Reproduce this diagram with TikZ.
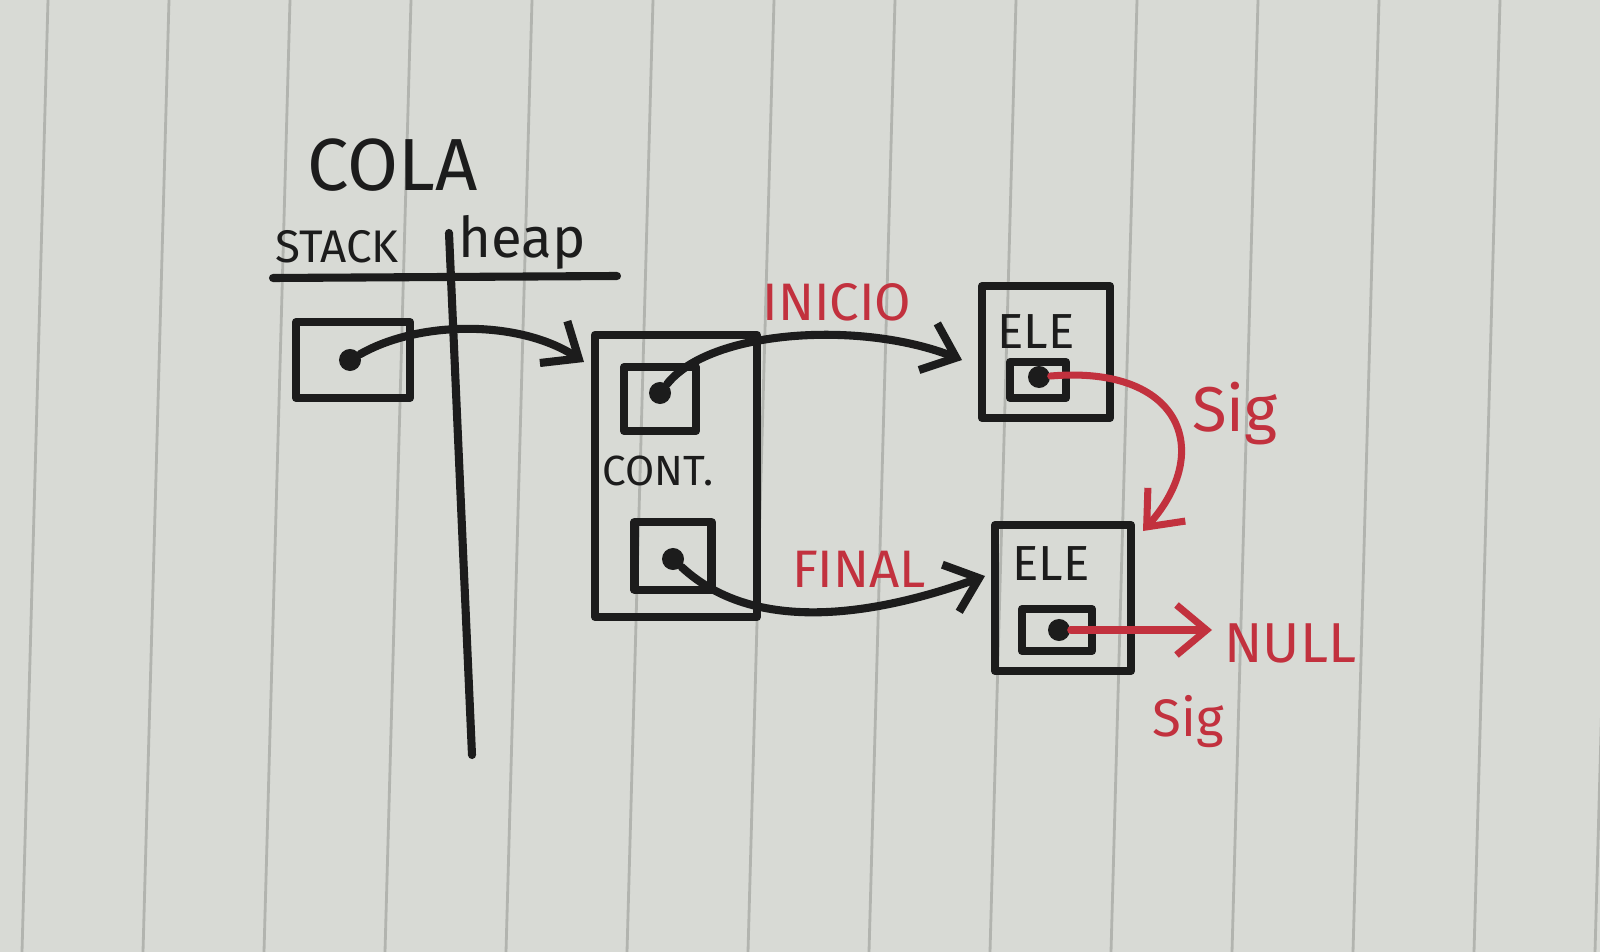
\documentclass[tikz,border=0pt]{standalone}
\usepackage{fontspec}
\setmainfont{Fira Sans}
\usetikzlibrary{arrows.meta}
\definecolor{paper}{HTML}{D8DAD5}
\definecolor{ruling}{HTML}{B2B4AF}
\definecolor{ink}{HTML}{1C1C1C}
\definecolor{redink}{HTML}{C2313E}
\tikzset{
  stroke/.style={draw=ink, line width=2.3pt, line cap=round, line join=round},
  memo/.style={stroke, inner sep=0pt},
  dotmark/.style={circle, fill=ink, inner sep=0pt, minimum size=2.2mm},
  blackarr/.style={stroke, -{Straight Barb[length=3mm,width=5mm,line width=2.3pt]}},
  redarr/.style={draw=redink, line width=2pt, line cap=round, -{Straight Barb[length=3mm,width=5mm,line width=2pt]}},
  blacklbl/.style={text=ink},
  redlbl/.style={text=redink, font=\fontsize{15}{18}\selectfont},
}
\begin{document}
\begin{tikzpicture}[x=0.01cm, y=-0.01cm]
\useasboundingbox (0,0) rectangle (1600,952);
\fill[paper] (0,0) rectangle (1600,952);
\foreach \i in {0,...,13} {
  \draw[ruling, line width=0.8pt] ({48+121*\i},0) -- ({22+121*\i},952);
}
% titles
\node[blacklbl, font=\fontsize{21}{25}\selectfont] (cola) at (393,165) {COLA};
\node[blacklbl, font=\fontsize{13}{16}\selectfont] (stack) at (337,247) {STACK};
\node[blacklbl, font=\fontsize{16}{19}\selectfont] (heap) at (522,242) {heap};
% divider
\coordinate (hl) at (273,278);
\coordinate (hr) at (617,276);
\coordinate (vt) at (449,233);
\coordinate (vb) at (472,755);
\draw[stroke] (hl) -- (hr);
\draw[stroke] (vt) -- (vb);
% stack box
\node[memo, minimum width=1.14cm, minimum height=0.76cm] (stackbox) at (353,360) {};
\node[dotmark] (sdot) at (350,360) {};
% CONT box
\node[memo, minimum width=1.62cm, minimum height=2.82cm] (cont) at (676,476) {};
\node[memo, minimum width=0.72cm, minimum height=0.64cm] (intop) at (660,399) {};
\node[dotmark] (tdot) at (660,393) {};
\node[blacklbl, font=\fontsize{12}{14}\selectfont] (contlbl) at (658,471) {CONT.};
\node[memo, minimum width=0.77cm, minimum height=0.68cm] (inbot) at (673,556) {};
\node[dotmark] (bdot) at (673,559) {};
\coordinate (contin) at (584,362);
% ELE 1
\node[memo, minimum width=1.28cm, minimum height=1.32cm] (ele1) at (1046,352) {};
\node[blacklbl, font=\fontsize{14}{17}\selectfont] (ele1lbl) at (1036,332) {ELE};
\node[memo, minimum width=0.56cm, minimum height=0.36cm] (in1) at (1038,380) {};
\node[dotmark] (e1dot) at (1039,377) {};
\coordinate (e1in) at (962,360);
% ELE 2
\node[memo, minimum width=1.36cm, minimum height=1.46cm] (ele2) at (1063,598) {};
\node[blacklbl, font=\fontsize{14}{17}\selectfont] (ele2lbl) at (1051,564) {ELE};
\node[memo, minimum width=0.70cm, minimum height=0.42cm] (in2) at (1057,630) {};
\node[dotmark] (e2dot) at (1059,630) {};
\coordinate (e2in) at (985,576);
\coordinate (e2sig) at (1143,531);
% labels
\node[redlbl] (inicio) at (837,302) {INICIO};
\node[redlbl] (final) at (859,569) {FINAL};
\node[redlbl, font=\fontsize{18}{22}\selectfont] (sig1) at (1235,414) {Sig};
\node[redlbl, font=\fontsize{16}{19}\selectfont, anchor=west] (null) at (1212,643) {NULL};
\node[redlbl, font=\fontsize{15}{18}\selectfont] (sig2) at (1188,722) {Sig};
% connectors
\draw[blackarr] (sdot) .. controls (420,320) and (520,320) .. (contin);
\draw[blackarr] (tdot) .. controls (710,330) and (860,320) .. (e1in);
\draw[blackarr] (bdot) .. controls (760,640) and (890,610) .. (e2in);
\draw[redarr] (e1dot) .. controls (1180,365) and (1215,450) .. (e2sig);
\draw[redarr] (e2dot) -- (null.west |- e2dot);
\end{tikzpicture}
\end{document}
